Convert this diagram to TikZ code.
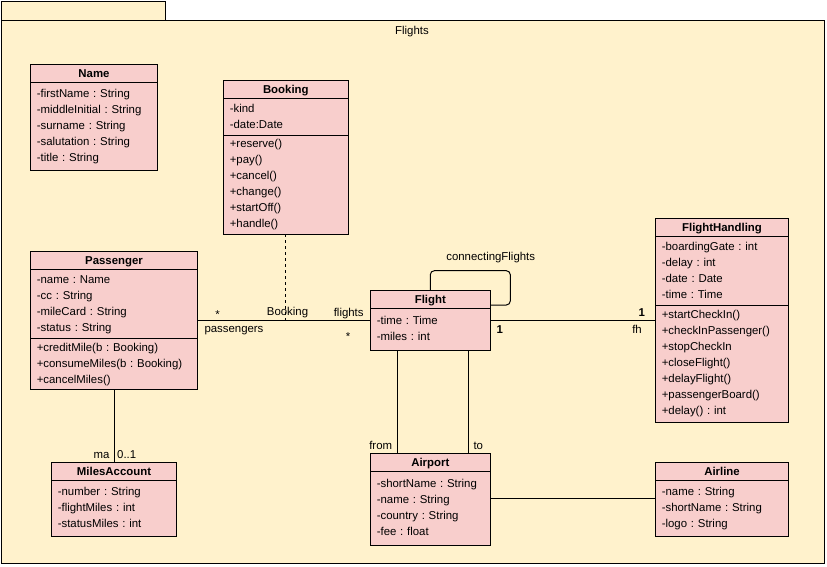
\documentclass[tikz,border=0pt]{standalone}
\usepackage{fontspec}
\setmainfont{Liberation Sans}
\usetikzlibrary{positioning}
\definecolor{pkgyellow}{HTML}{FFF2CC}
\definecolor{classpink}{HTML}{F8CECC}

\begin{document}
\begin{tikzpicture}[x=1pt, y=-1pt, line width=1pt,
    every node/.style = {font=\fontsize{11.4}{16}\selectfont\frenchspacing},
    pkg/.style     = {draw, fill=pkgyellow},
    umlhead/.style = {draw, fill=classpink,
      font=\fontsize{11.4}{16}\selectfont\bfseries,
      minimum height=18pt, inner sep=0pt, outer sep=0pt,
      text height=8pt, text depth=0pt, anchor=north},
    umlpart/.style = {draw, fill=classpink, align=left,
      inner xsep=6.5pt, inner ysep=0pt, outer sep=0pt, anchor=north,
      execute at begin node=\strut, execute at end node=\strut},
    lbl/.style     = {inner sep=0pt, anchor=base},
    mult/.style    = {lbl, font=\fontsize{11.4}{16}\selectfont\bfseries},
  ]
  \path[use as bounding box] (0,0) rectangle (827,566);

  % package
  \draw[pkg] (1,1) rectangle (165,20);
  \draw[pkg] (1,20) rectangle (824,563);
  \node[lbl] (pkgname) at (412,34) {Flights};

  % classes
  \node[umlhead, minimum width=127.3pt] (name) at (94,64.3) {Name};
  \node[umlpart, text width=114.3pt, minimum height=87.7pt, below=0pt of name] (name-attr)
    {-firstName : String\\-middleInitial : String\\-surname : String\\-salutation : String\\-title : String};

  \node[umlhead, minimum width=125pt] (booking) at (285.8,80.3) {Booking};
  \node[umlpart, text width=112pt, minimum height=37pt, below=0pt of booking] (booking-attr)
    {-kind\\-date:Date};
  \node[umlpart, text width=112pt, minimum height=98.7pt, below=0pt of booking-attr] (booking-meth)
    {+reserve()\\+pay()\\+cancel()\\+change()\\+startOff()\\+handle()};

  \node[umlhead, minimum width=167.4pt] (passenger) at (114,251.3) {Passenger};
  \node[umlpart, text width=154.4pt, minimum height=69.4pt, below=0pt of passenger] (passenger-attr)
    {-name : Name\\-cc : String\\-mileCard : String\\-status : String};
  \node[umlpart, text width=154.4pt, minimum height=50.3pt, below=0pt of passenger-attr] (passenger-meth)
    {+creditMile(b : Booking)\\+consumeMiles(b : Booking)\\+cancelMiles()};

  \node[umlhead, minimum width=125.4pt] (miles) at (114,462.3) {MilesAccount};
  \node[umlpart, text width=112.4pt, minimum height=55.7pt, below=0pt of miles] (miles-attr)
    {-number : String\\-flightMiles : int\\-statusMiles : int};

  \node[umlhead, minimum width=120pt, minimum height=18.4pt] (flight) at (430.3,290.3) {Flight};
  \node[umlpart, text width=107pt, minimum height=41.6pt, below=0pt of flight] (flight-attr)
    {-time : Time\\-miles : int};

  \node[umlhead, minimum width=120pt] (airport) at (430.3,453.3) {Airport};
  \node[umlpart, text width=107pt, minimum height=73.7pt, below=0pt of airport] (airport-attr)
    {-shortName : String\\-name : String\\-country : String\\-fee : float};

  \node[umlhead, minimum width=133.4pt, minimum height=18.4pt] (fh) at (722,218.3) {FlightHandling};
  \node[umlpart, text width=120.4pt, minimum height=68.6pt, below=0pt of fh] (fh-attr)
    {-boardingGate : int\\-delay : int\\-date : Date\\-time : Time};
  \node[umlpart, text width=120.4pt, minimum height=116.7pt, below=0pt of fh-attr] (fh-meth)
    {+startCheckIn()\\+checkInPassenger()\\+stopCheckIn\\+closeFlight()\\+delayFlight()\\+passengerBoard()\\+delay() : int};

  \node[umlhead, minimum width=133.4pt] (airline) at (722,462.3) {Airline};
  \node[umlpart, text width=120.4pt, minimum height=55.7pt, below=0pt of airline] (airline-attr)
    {-name : String\\-shortName : String\\-logo : String};

  % associations
  \coordinate (assoc) at (0,320.3);
  \coordinate (loop) at (510.3,270.7);
  \draw (passenger-attr.east |- assoc) -- (flight-attr.west |- assoc);
  \draw[dash pattern=on 3pt off 3pt] (booking-meth.south) -- (booking-meth.south |- assoc);
  \draw (flight-attr.east |- assoc) -- (fh-meth.west |- assoc);
  \draw[rounded corners=4pt] (flight.north) |- (loop) |- ([yshift=-5.5pt]flight.east);
  \draw ([xshift=-33pt]flight-attr.south) -- ([xshift=-33pt]airport.north);
  \draw ([xshift=38.4pt]flight-attr.south) -- ([xshift=38.4pt]airport.north);
  \draw ([yshift=9.2pt]airport-attr.east) -- ([yshift=9.2pt]airline-attr.west);
  \draw (passenger-meth.south) -- (miles.north);

  % role names and multiplicities
  \node[lbl] (m-passengers) at (217.7,318.7) {*};
  \node[lbl, anchor=base west] (r-passengers) at (204,332.5) {passengers};
  \node[lbl] (r-booking) at (287.5,315.3) {Booking};
  \node[lbl] (r-flights) at (348.7,316.3) {flights};
  \node[lbl] (m-flights) at (348,340.7) {*};
  \node[mult] (m-flight) at (499.7,333) {1};
  \node[mult] (m-fh) at (641.7,316.7) {1};
  \node[lbl] (r-fh) at (637,333.3) {fh};
  \node[lbl] (r-loop) at (490.7,260.5) {connectingFlights};
  \node[lbl] (r-from) at (380.7,449) {from};
  \node[lbl] (r-to) at (478.3,449) {to};
  \node[lbl] (r-ma) at (101.5,458) {ma};
  \node[lbl] (m-ma) at (126.7,458) {0..1};
\end{tikzpicture}
\end{document}
